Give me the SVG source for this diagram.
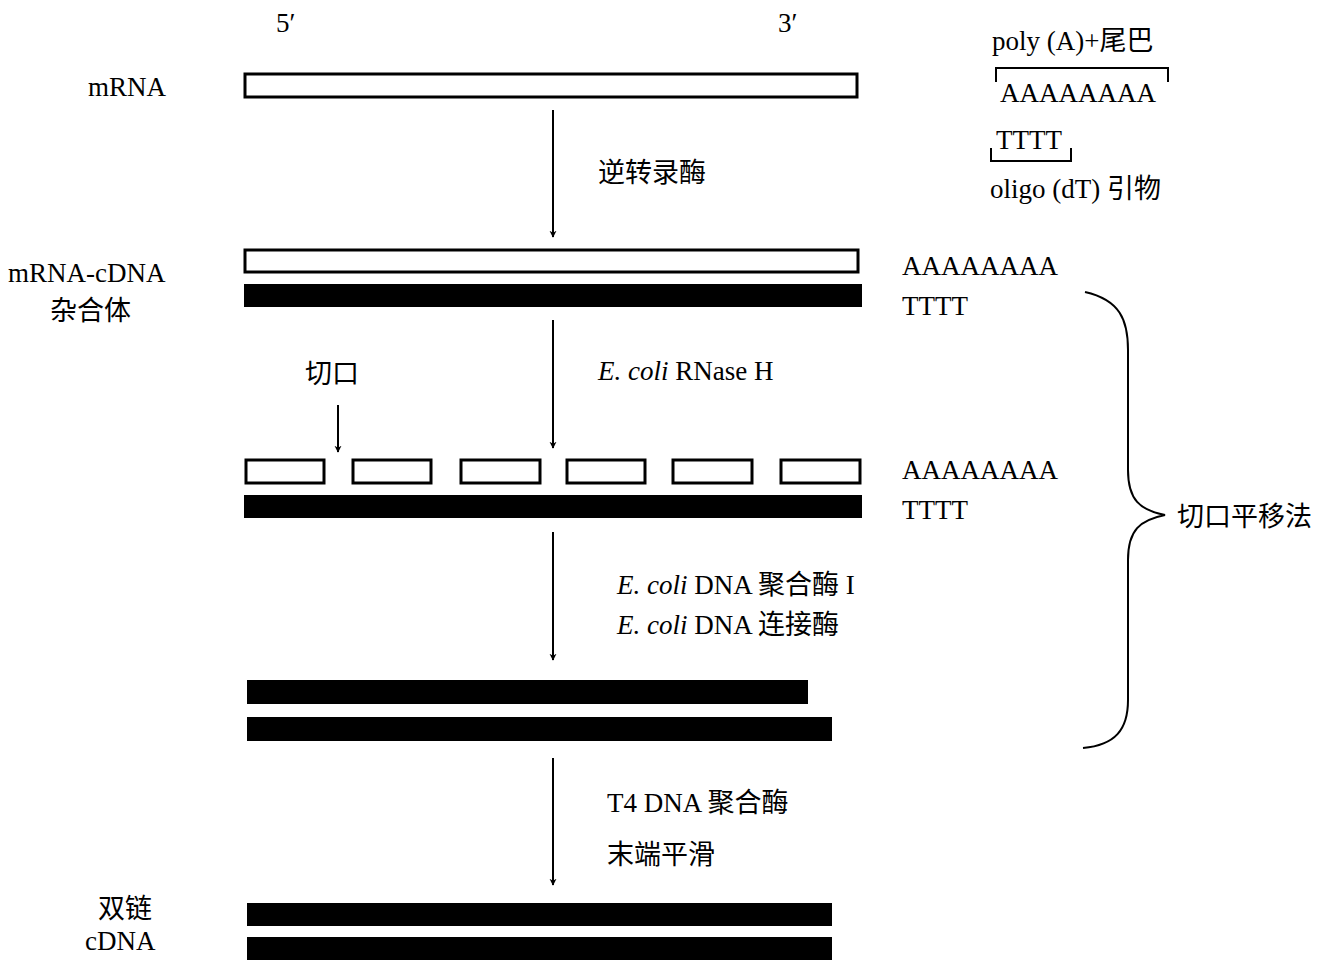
<svg xmlns="http://www.w3.org/2000/svg" width="1333" height="965" viewBox="0 0 1333 965">
<style>
text{font-family:"Liberation Serif","Noto Sans CJK SC",serif;font-size:27px;fill:#000}
.w{fill:#fff;stroke:#000;stroke-width:3}
.b{fill:#000}
.l{stroke:#000;stroke-width:2;fill:none}
</style>
<defs><marker id="a" viewBox="0 0 10 10" refX="9" refY="5" markerWidth="7" markerHeight="9" orient="auto" markerUnits="userSpaceOnUse"><path d="M0,0L10,5L0,10L3,5Z" fill="#000"/></marker></defs>
<rect width="1333" height="965" fill="#fff"/>
<g id="labels">
<text x="276" y="32">5′</text><text x="778" y="32">3′</text>
<text x="88" y="96">mRNA</text>
<text x="992" y="50">poly  (A)+尾巴</text>
<text x="1000" y="102">AAAAAAAA</text>
<text x="996" y="149">TTTT</text>
<text x="990" y="198">oligo  (dT)  引物</text>
<text x="8" y="282">mRNA-cDNA</text><text x="50" y="320">杂合体</text>
<text x="98" y="918">双链</text><text x="85" y="950">cDNA</text>
<text x="1177" y="526">切口平移法</text>
</g>
<g id="mrna"><rect class="w" x="245" y="74" width="612" height="23"/></g>
<g id="hybrid"><rect class="w" x="245" y="250" width="613" height="22"/><rect class="b" x="244" y="284" width="618" height="23"/>
<text x="902" y="275">AAAAAAAA</text><text x="902" y="315">TTTT</text></g>
<g id="nicked"><rect class="w" x="246" y="460" width="78" height="23"/><rect class="w" x="353" y="460" width="78" height="23"/><rect class="w" x="461" y="460" width="79" height="23"/><rect class="w" x="567" y="460" width="78" height="23"/><rect class="w" x="673" y="460" width="79" height="23"/><rect class="w" x="781" y="460" width="79" height="23"/>
<rect class="b" x="244" y="495" width="618" height="23"/><text x="902" y="479">AAAAAAAA</text><text x="902" y="519">TTTT</text><text x="305" y="383">切口</text></g>
<g id="ds1"><rect class="b" x="247" y="680" width="561" height="24"/><rect class="b" x="247" y="717" width="585" height="24"/></g>
<g id="ds2"><rect class="b" x="247" y="903" width="585" height="23"/><rect class="b" x="247" y="937" width="585" height="23"/></g>
<g id="connectors">
<line class="l" x1="553" y1="110" x2="553" y2="237" marker-end="url(#a)"/>
<line class="l" x1="553" y1="320" x2="553" y2="448" marker-end="url(#a)"/>
<line class="l" x1="338" y1="405" x2="338" y2="452" marker-end="url(#a)"/>
<line class="l" x1="553" y1="532" x2="553" y2="660" marker-end="url(#a)"/>
<line class="l" x1="553" y1="758" x2="553" y2="885" marker-end="url(#a)"/>
<path class="l" d="M996,82V68H1168V82"/>
<path class="l" d="M991,148V161H1071V148"/>
<path class="l" d="M1085,292C1120,300 1128,320 1128,350V470C1128,500 1140,510 1165,515C1140,520 1128,530 1128,560V700C1128,730 1115,745 1083,748"/>
<text x="598" y="182">逆转录酶</text>
<text x="598" y="380"><tspan font-style="italic">E. coli</tspan> RNase H</text>
<text x="617" y="594"><tspan font-style="italic">E. coli</tspan> DNA  聚合酶  I</text>
<text x="617" y="634"><tspan font-style="italic">E. coli</tspan> DNA  连接酶</text>
<text x="607" y="812">T4  DNA  聚合酶</text>
<text x="607" y="864">末端平滑</text>
</g>
</svg>
